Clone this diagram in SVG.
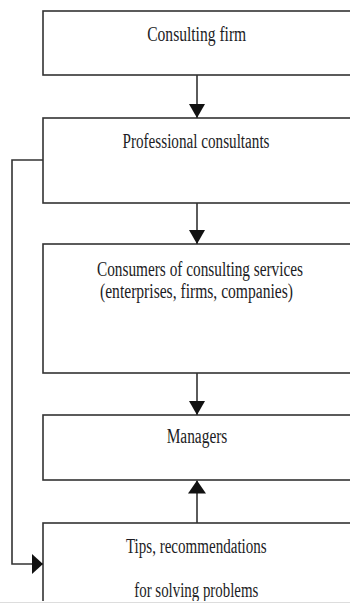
<svg xmlns="http://www.w3.org/2000/svg" width="350" height="606" viewBox="0 0 350 606">
<style>
.box{fill:#fff;stroke:#333;stroke-width:1.6}
.t{font-family:"Liberation Serif","Times New Roman",serif;font-size:20px;fill:#1c1c24;text-anchor:middle}
.c{fill:none;stroke:#333;stroke-width:1.6}
</style>
<defs>
<marker id="ahd" viewBox="0 0 14 16" refX="14" refY="8" markerWidth="14" markerHeight="16" markerUnits="userSpaceOnUse" orient="auto">
<path d="M0,0 L14,8 L0,16 Z" fill="#111"/>
</marker>
<marker id="ahu" viewBox="0 0 13 18" refX="13" refY="9" markerWidth="13" markerHeight="18" markerUnits="userSpaceOnUse" orient="auto">
<path d="M0,0 L13,9 L0,18 Z" fill="#111"/>
</marker>
<marker id="ahs" viewBox="0 0 11 20" refX="11" refY="10" markerWidth="11" markerHeight="20" markerUnits="userSpaceOnUse" orient="auto">
<path d="M0,0 L11,10 L0,20 Z" fill="#111"/>
</marker>
<clipPath id="cut"><rect x="0" y="0" width="350" height="601"/></clipPath>
</defs>
<rect width="350" height="606" fill="#fff"/>
<g id="n1"><rect class="box" x="43" y="11" width="330" height="64"/><text class="t" x="196.7" y="40.7" textLength="99" lengthAdjust="spacingAndGlyphs">Consulting firm</text></g>
<g id="n2"><rect class="box" x="43" y="118" width="330" height="85"/><text class="t" x="196" y="148.3" textLength="147" lengthAdjust="spacingAndGlyphs">Professional consultants</text></g>
<g id="n3"><rect class="box" x="43" y="244" width="330" height="129"/><text class="t" x="200" y="275.7" textLength="206" lengthAdjust="spacingAndGlyphs">Consumers of consulting services</text><text class="t" x="196.5" y="297.7" textLength="193" lengthAdjust="spacingAndGlyphs">(enterprises, firms, companies)</text></g>
<g id="n4"><rect class="box" x="43" y="415" width="330" height="65"/><text class="t" x="197" y="442.7" textLength="60.7" lengthAdjust="spacingAndGlyphs">Managers</text></g>
<g id="n5" clip-path="url(#cut)"><rect class="box" x="43" y="523" width="330" height="100"/><text class="t" x="196.3" y="553.3" textLength="140.7" lengthAdjust="spacingAndGlyphs">Tips, recommendations</text><text class="t" x="196.3" y="596.7" textLength="124" lengthAdjust="spacingAndGlyphs">for solving problems</text></g>
<line x1="0" y1="602.5" x2="350" y2="602.5" stroke="#ddd" stroke-width="1"/>
<g id="connectors">
<line class="c" x1="197" y1="75" x2="197" y2="118" marker-end="url(#ahd)"/>
<line class="c" x1="197" y1="203" x2="197" y2="244" marker-end="url(#ahd)"/>
<line class="c" x1="197" y1="373" x2="197" y2="415" marker-end="url(#ahd)"/>
<line class="c" x1="197" y1="523" x2="197" y2="480.5" marker-end="url(#ahu)"/>
<polyline class="c" points="43,160 12,160 12,564 43,564" marker-end="url(#ahs)"/>
</g>
</svg>
